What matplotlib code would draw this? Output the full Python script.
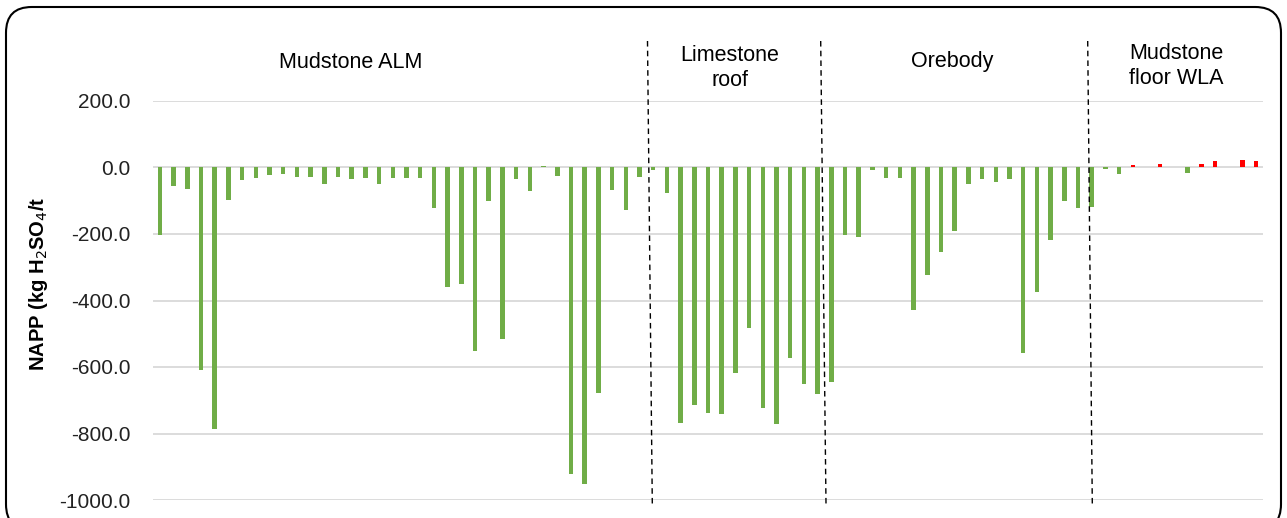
import matplotlib
matplotlib.use("Agg")
import matplotlib.pyplot as plt
from matplotlib.patches import FancyBboxPatch
import numpy as np

plt.rcParams['font.family'] = ['Liberation Sans', 'DejaVu Sans']

# NAPP values (kg H2SO4/t) per sample, left to right
napp = [
    -203, -56, -66, -609, -786, -99, -37, -33, -23, -21, -30, -30, -50, -30, -36, -31, -50, -33,
    -32, -32, -123, -358, -350, -551, -101, -517, -36, -72, 5, -27, -922, -951, -679, -69, -128, -29,
    -8, -78, -769, -713, -738, -741, -617, -482, -724, -771, -573, -651, -681,
    -645, -202, -210, -9, -32, -33, -428, -322, -253, -190, -50, -36, -43, -35, -559, -374, -218,
    -102, -121,
    -118, -6, -21, 7, 3, 10, 3, -16, 12, 21, 3, 24, 21,
]
sections = ["Mudstone ALM", "Limestone\nroof", "Orebody", "Mudstone\nfloor WLA"]
yticks = [200, 0, -200, -400, -600, -800, -1000]

W, H = 1287, 518
fig = plt.figure(figsize=(W / 100, H / 100), dpi=100)
ax = fig.add_axes([153 / W, 1 - 500 / H, (1263 - 153) / W, (500 - 101) / H])

x = np.arange(len(napp))
vals = np.array(napp, dtype=float)
colors = ['#FF0000' if v > 0 and i >= 68 else '#70AD47' for i, v in enumerate(vals)]
ax.bar(x, vals, width=0.33, color=colors, zorder=3)

ax.set_xlim(-0.5, len(napp) - 0.5)
ax.set_ylim(-1000, 200)
ax.set_yticks(yticks)
ax.set_yticklabels([f"{t:.1f}" for t in yticks], fontsize=15, color='#222222')
ax.set_xticks([])
ax.tick_params(axis='y', length=0, pad=16)
ax.grid(axis='y', color='#d9d9d9', linewidth=1.3, zorder=0)
for s in ax.spines.values():
    s.set_visible(False)

ax.set_ylabel("NAPP (kg H$_2$SO$_4$/t", fontsize=14.5, fontweight='bold')
ax.yaxis.set_label_coords((50 - 153) / (1263 - 153), (500 - 284) / (500 - 101))

# section dividers (pixel endpoints converted to data coords)
def px2data(px, py):
    inv = ax.transData.inverted()
    return inv.transform((px, H - py))

for (xt, xb) in [(647.5, 652.3), (820.7, 826.0), (1087.7, 1092.3)]:
    p1 = px2data(xt, 41)
    p2 = px2data(xb, 504)
    ax.plot([p1[0], p2[0]], [p1[1], p2[1]], color='black', linestyle=(0, (4, 3)),
            linewidth=1.0, clip_on=False, zorder=4)

label_pos = [(351, 62), (730, 68), (952, 62), (1176, 66)]
for lab, (px, py) in zip(sections, label_pos):
    fig.text(px / W, 1 - py / H, lab, ha='center', va='center', fontsize=15.5,
             color='black', linespacing=1.22)

# rounded border
border = FancyBboxPatch((6 / W, -12 / H), (1281 - 6) / W, (511 + 12) / H,
                        boxstyle="round,pad=0,rounding_size=0.02",
                        transform=fig.transFigure, facecolor='none',
                        edgecolor='black', linewidth=1.5, mutation_aspect=W / H)
fig.patches.append(border)

fig.savefig("out.png", dpi=100)
